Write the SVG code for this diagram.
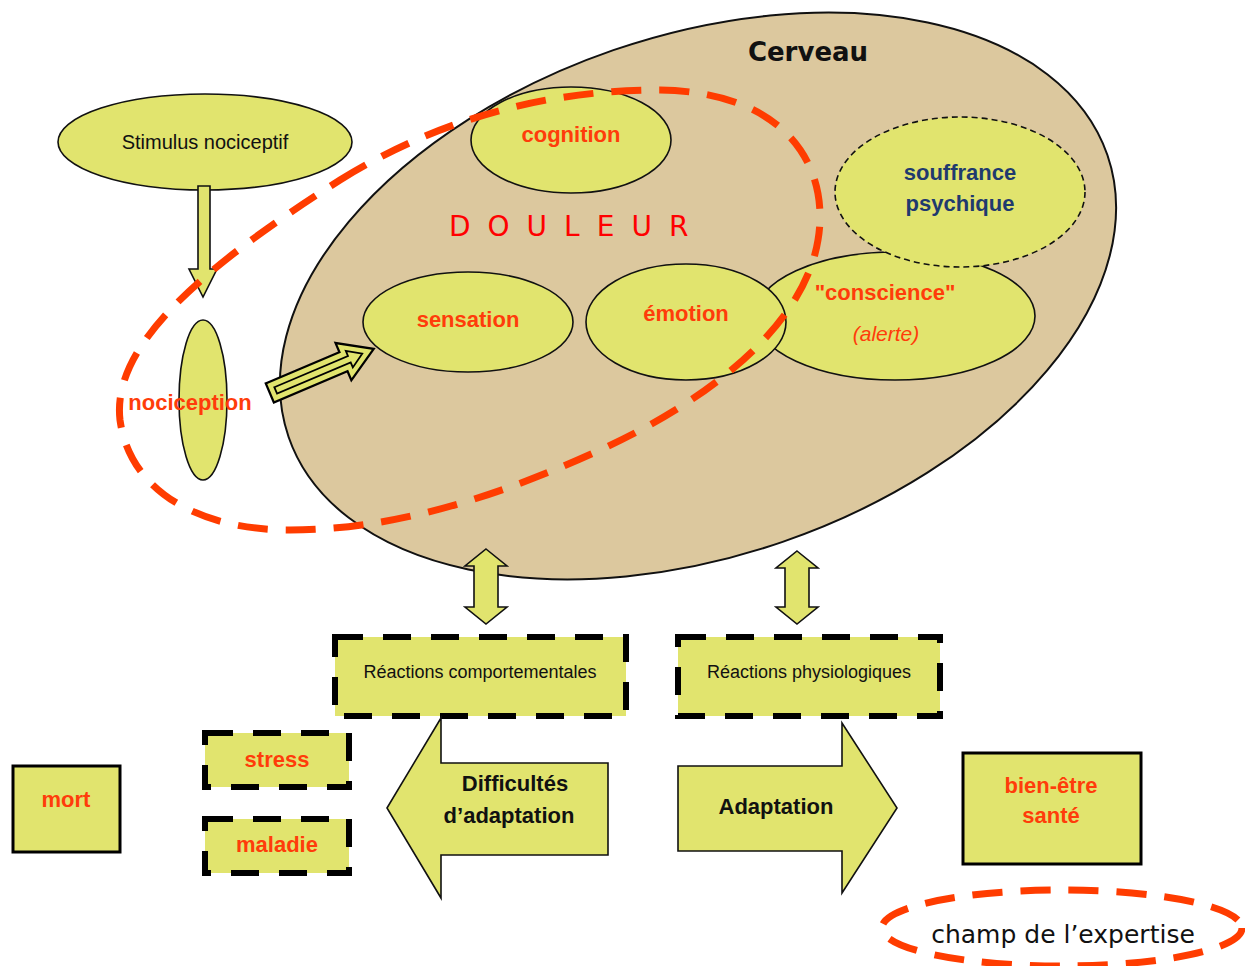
<svg xmlns="http://www.w3.org/2000/svg" width="1245" height="966" viewBox="0 0 1245 966">
<style>
.y{fill:#e1e46e;stroke:#111;stroke-width:1.6}
.t{font-family:"Liberation Sans",Arial,sans-serif;text-anchor:middle}
.rb{fill:#ff3c0a;font-weight:bold;font-size:22px}
.blk{fill:#111}
.dbox{fill:#e1e46e;stroke:#000;stroke-width:6;stroke-dasharray:28 20}
.sbox{fill:#e1e46e;stroke:#000;stroke-width:3}
.red{fill:none;stroke:#ff3c00;stroke-width:7;stroke-dasharray:30 18}
.comic{font-family:"DejaVu Sans",sans-serif}
</style>
<rect width="1245" height="966" fill="#fff"/>
<g id="cerveau">
<ellipse cx="698" cy="296" rx="433" ry="260" transform="rotate(-19 698 296)" fill="#dcc89e" stroke="#111" stroke-width="2"/>
<text x="808" y="61" class="comic" font-size="26" font-weight="bold" text-anchor="middle" fill="#111">Cerveau</text>
</g>
<g id="stimulus">
<ellipse cx="205" cy="142" rx="147" ry="48" class="y"/>
<text x="205" y="149" class="t blk" font-size="20">Stimulus nociceptif</text>
</g>
<g id="nociception">
<ellipse cx="203" cy="400" rx="24" ry="80" class="y"/>
</g>
<g id="cognition">
<ellipse cx="571" cy="140" rx="100" ry="53" class="y"/>
<text x="571" y="142" class="t rb">cognition</text>
</g>
<g id="douleur">
<text x="449" y="236" class="comic" font-size="28" letter-spacing="17" fill="#ff0000">DOULEUR</text>
</g>
<g id="sensation">
<ellipse cx="468" cy="322" rx="105" ry="50" class="y"/>
<text x="468" y="327" class="t rb">sensation</text>
</g>
<g id="conscience">
<ellipse cx="895" cy="316" rx="140" ry="64" class="y"/>
<text x="885" y="300" class="t rb">"conscience"</text>
<text x="886" y="341" class="t" font-size="21" font-style="italic" fill="#ff3c0a">(alerte)</text>
</g>
<g id="emotion">
<ellipse cx="686" cy="322" rx="100" ry="58" class="y"/>
<text x="686" y="321" class="t rb">émotion</text>
</g>
<g id="souffrance">
<ellipse cx="960" cy="192" rx="125" ry="75" fill="#e1e46e" stroke="#111" stroke-width="1.6" stroke-dasharray="6 4"/>
<text x="960" y="180" class="t" font-size="22" font-weight="bold" fill="#1f3a6e">souffrance</text>
<text x="960" y="211" class="t" font-size="22" font-weight="bold" fill="#1f3a6e">psychique</text>
</g>
<g id="comportementales">
<rect x="335" y="637" width="291" height="79" class="dbox"/>
<text x="480" y="678" class="t blk" font-size="18">Réactions comportementales</text>
</g>
<g id="physiologiques">
<rect x="678" y="637" width="262" height="79" class="dbox"/>
<text x="809" y="678" class="t blk" font-size="18">Réactions physiologiques</text>
</g>
<g id="stress">
<rect x="205" y="733" width="144" height="54" class="dbox"/>
<text x="277" y="767" class="t rb" font-size="19">stress</text>
</g>
<g id="maladie">
<rect x="205" y="819" width="144" height="54" class="dbox"/>
<text x="277" y="852" class="t rb" font-size="19">maladie</text>
</g>
<g id="mort">
<rect x="13" y="766" width="107" height="86" class="sbox"/>
<text x="66" y="807" class="t rb" font-size="21">mort</text>
</g>
<g id="difficultes">
<polygon points="387,808 441,718 441,763 608,763 608,855 441,855 441,898" class="y"/>
<text x="515" y="791" class="t blk" font-size="22" font-weight="bold">Difficultés</text>
<text x="509" y="823" class="t blk" font-size="22" font-weight="bold">d’adaptation</text>
</g>
<g id="adaptation">
<polygon points="678,766 842,766 842,723 897,808 842,893 842,851 678,851" class="y"/>
<text x="776" y="814" class="t blk" font-size="22" font-weight="bold">Adaptation</text>
</g>
<g id="bienetre">
<rect x="963" y="753" width="178" height="111" class="sbox"/>
<text x="1051" y="793" class="t rb" font-size="21">bien-être</text>
<text x="1051" y="823" class="t rb" font-size="21">santé</text>
</g>
<g id="connectors">
<polygon points="198,186 210,186 210,269 217,269 203,297 189,269 198,269" class="y"/>
<g transform="translate(272,392) rotate(-23)">
<polygon points="0,-8 80,-8 80,-16 106,0 80,16 80,8 0,8" fill="#e1e46e" stroke="#000" stroke-width="7" stroke-linejoin="miter"/>
<polygon points="0,-8 80,-8 80,-16 106,0 80,16 80,8 0,8" fill="#e1e46e" stroke="#e1e46e" stroke-width="2.5"/>
<polygon points="4,-3.5 84,-3.5 84,-9 98,0 84,9 84,3.5 4,3.5" fill="#e1e46e" stroke="#000" stroke-width="1.8"/>
</g>
<polygon points="486,549 507,566 498,566 498,607 507,607 486,624 465,607 474,607 474,566 465,566" class="y"/>
<polygon points="797,551 818,568 809,568 809,607 818,607 797,624 776,607 785,607 785,568 776,568" class="y"/>
</g>
<g id="champ-douleur">
<path d="M 340,180 C 450,112 560,90 660,90 C 790,92 830,170 818,240 C 805,320 720,395 600,450 C 480,505 380,530 290,530 C 200,530 130,492 120,420 C 112,350 190,275 340,180 Z" class="red"/>
<text x="190" y="410" class="t rb">nociception</text>
</g>
<g id="expertise">
<ellipse cx="1062" cy="928" rx="180" ry="38" class="red" stroke-width="6"/>
<text x="1063" y="943" class="comic" font-size="25" text-anchor="middle" fill="#111">champ de l’expertise</text>
</g>
</svg>
